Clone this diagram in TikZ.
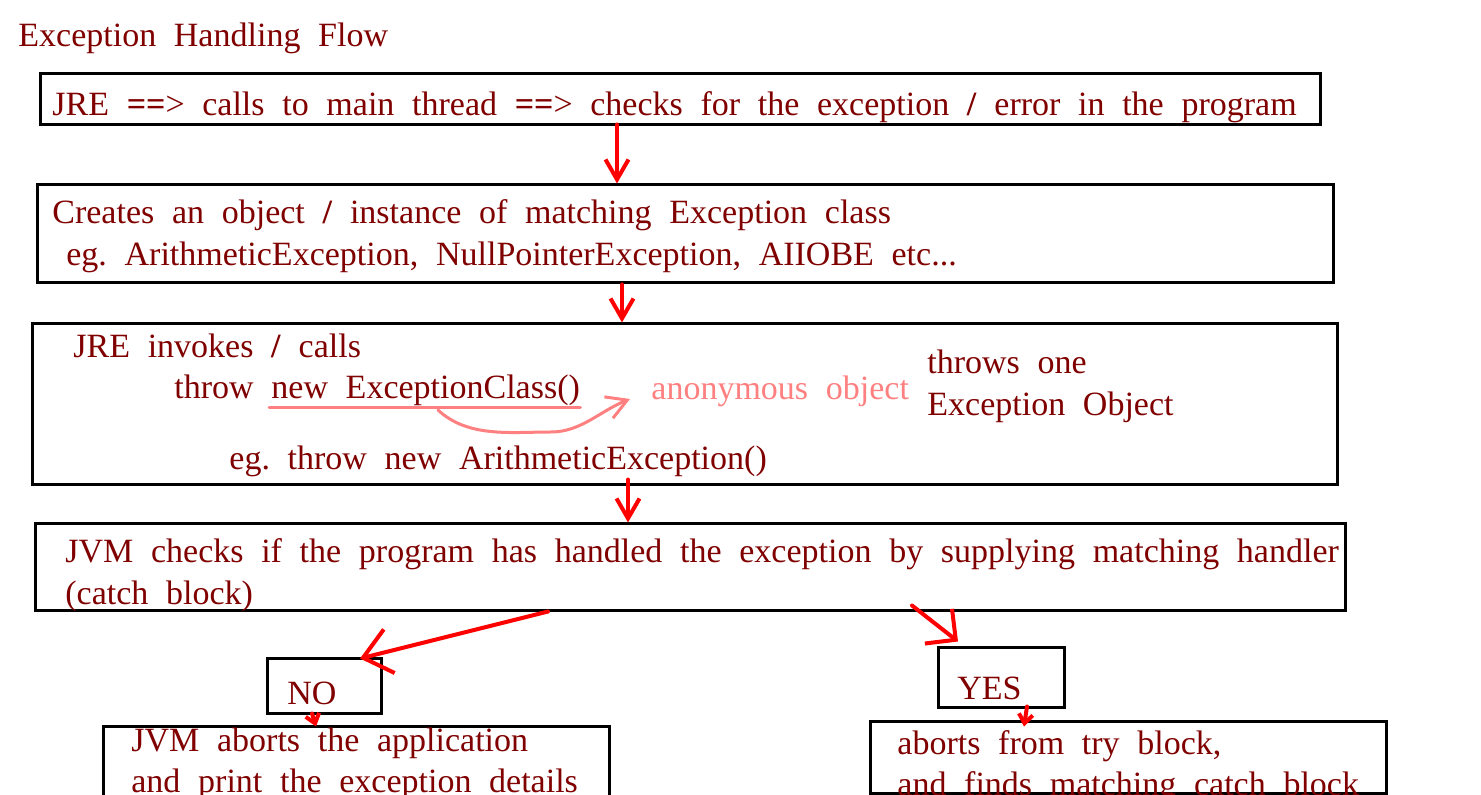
\documentclass[tikz,border=0pt]{standalone}
\usepackage{fontspec}
\setmainfont{Liberation Serif}
\usetikzlibrary{arrows.meta,calc}
\definecolor{maroon}{RGB}{128,0,0}
\definecolor{marker}{RGB}{255,0,0}
\definecolor{salmon}{RGB}{255,128,128}
\frenchspacing
\newcommand\linefont{\fontsize{17pt}{20pt}\selectfont\spaceskip=0.52em plus 0.2em minus 0.1em\relax}
\tikzset{
  >={Straight Barb[length=10pt,width=11.5pt]},
  box/.style={draw=black,line width=1.5pt,inner sep=0pt},
  line/.style={anchor=base west,inner sep=0pt,text=maroon,font=\linefont},
  flow/.style={->,line width=2pt,draw=marker,line cap=round},
  small flow/.style={flow,-{Straight Barb[length=4.5pt,width=7pt]}},
  wide flow/.style={flow,-{Straight Barb[length=13.5pt,width=22.5pt]}},
  open flow/.style={flow,-{Straight Barb[length=11pt,width=22pt]}},
  pen/.style={draw=salmon,line width=1.5pt,line cap=round},
}
\begin{document}
\begin{tikzpicture}[x=0.5pt,y=-0.5pt]
  \useasboundingbox (0,0) rectangle (1481,795);
  \clip (0,0) rectangle (1481,795);
  \fill[white] (0,0) rectangle (1481,795);
  \node[line] (title) at (18,47) {Exception Handling Flow};
  % boxes
  \node[box,minimum width=640pt,minimum height=25.5pt] (jre) at (680,99.5) {};
  \node[box,minimum width=648pt,minimum height=49pt] (create) at (685,234) {};
  \node[box,minimum width=652.5pt,minimum height=80.5pt] (invoke) at (684.5,404.5) {};
  \node[box,minimum width=655pt,minimum height=43pt] (check) at (690,567) {};
  \node[box,minimum width=57pt,minimum height=27.5pt] (no) at (324,685.5) {};
  \node[box,minimum width=63pt,minimum height=30pt] (yes) at (1001,677) {};
  \node[box,minimum width=253pt,minimum height=54pt] (abort) at (356,780) {};
  \node[box,minimum width=258pt,minimum height=36pt] (found) at (1128,757) {};
  % texts
  \node[line] (jretxt) at (52,116) {JRE \textbf{==}> calls to main thread \textbf{==}> checks for the exception \textbf{/} error in the program};
  \node[line] (createa) at (52,224) {Creates an object \textbf{/} instance of matching Exception class};
  \node[line] (createb) at (66,266) {eg. ArithmeticException, NullPointerException, AIIOBE etc...};
  \node[line] (invokea) at (73,358) {JRE invokes \textbf{/} calls};
  \node[line] (thr) at (174,399) {throw};
  \node[line] (cls) at (271,399) {new ExceptionClass()};
  \node[line,text=salmon] (anon) at (651,400) {anonymous object};
  \node[line] (throwsa) at (927,374) {throws one};
  \node[line] (throwsb) at (927,416) {Exception Object};
  \node[line] (invokeb) at (229,470) {eg. throw new ArithmeticException()};
  \node[line] (checka) at (65,562) {JVM checks if the program has handled the exception by supplying matching handler};
  \node[line] (checkb) at (65,604) {(catch block)};
  \node[line] (notxt) at (287,704) {NO};
  \node[line] (yestxt) at (957,699) {YES};
  \node[line] (aborta) at (131,751) {JVM aborts the application};
  \node[line] (abortb) at (131,792) {and print the exception details};
  \node[line] (founda) at (897,754) {aborts from try block,};
  \node[line] (foundb) at (897,795) {and finds matching catch block};
  % pen marks
  \draw[pen] ($(cls.base west)+(-2,9)$) -- ($(cls.base east)+(0,9)$);
  \draw[pen,->] ($(cls.base west)+(167,11)$) .. controls +(30,28) and +(-40,0) .. ($(cls.base west)+(280,33)$)
    .. controls +(30,0) and +(-30,12) .. ($(anon.base west)+(-21,-1)$);
  % connectors
  \draw[flow] ($(jre.south)+(-63,-2)$) -- ($(create.north)+(-68,0)$);
  \draw[flow] ($(create.south)+(-63,0)$) -- ($(invoke.north)+(-62.5,0)$);
  \draw[flow] ($(invoke.south)+(-56.5,-7)$) -- ($(check.north)+(-62,0)$);
  \draw[wide flow] ($(check.south)+(-142,0)$) -- ($(no.north)+(36,2)$);
  \draw[open flow] ($(check.south)+(222,-6)$) -- ($(yes.north)+(-43,-4)$);
  \draw[small flow] ($(no.south)+(-12,-1)$) -- ($(abort.north)+(-40,2)$);
  \draw[small flow] ($(yes.south)+(26,-2)$) -- ($(found.north)+(-104,7)$);
\end{tikzpicture}
\end{document}
